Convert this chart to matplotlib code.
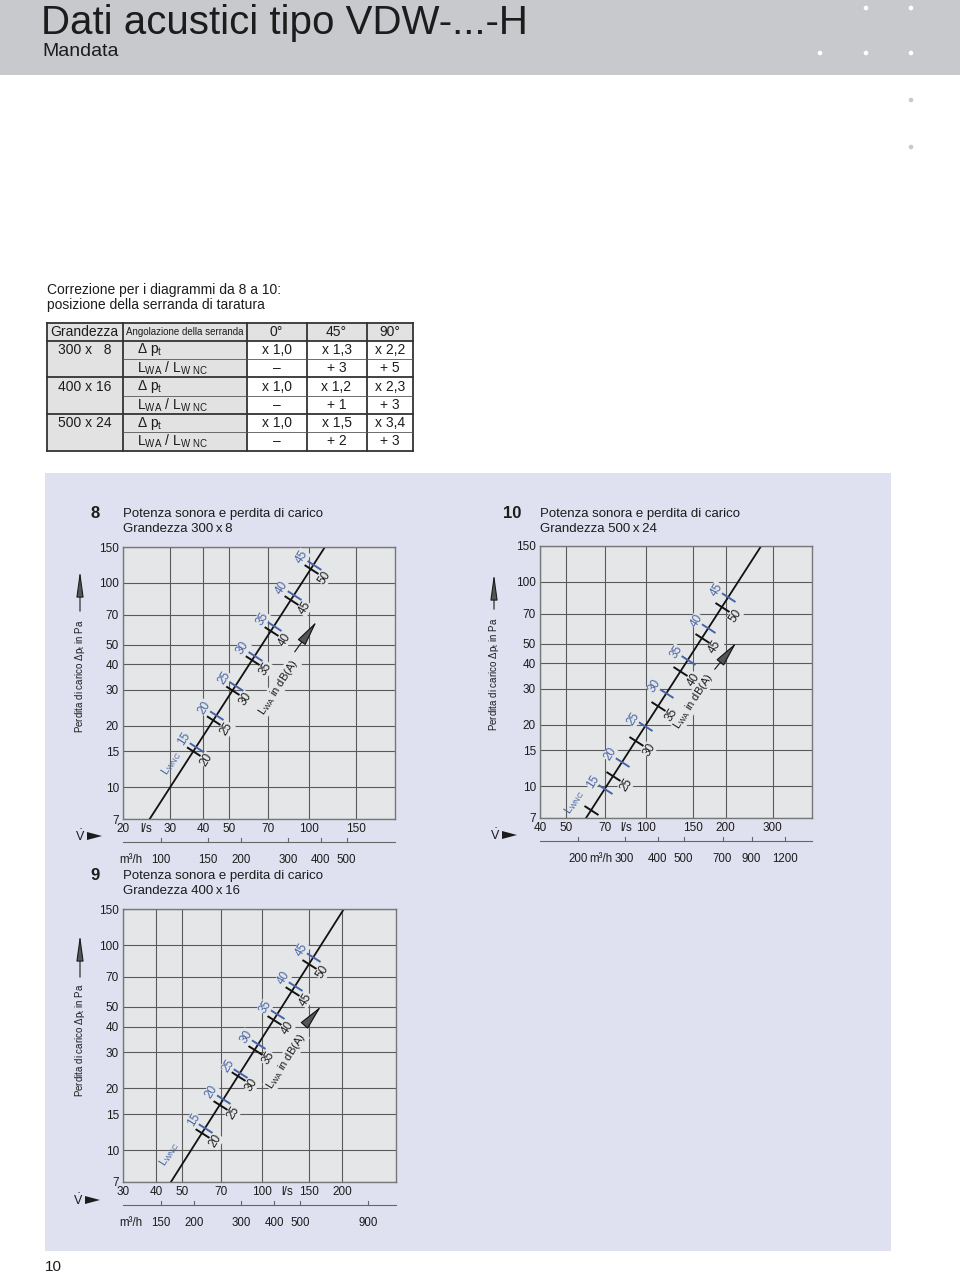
import math
import matplotlib.pyplot as plt
import matplotlib.patches as mpatches
from matplotlib.ticker import NullLocator

plt.rcParams['font.family'] = ['Liberation Sans', 'DejaVu Sans']
plt.rcParams['mathtext.fontset'] = 'custom'
plt.rcParams['mathtext.rm'] = 'Liberation Sans'
plt.rcParams['mathtext.it'] = 'Liberation Sans:italic'
plt.rcParams['mathtext.bf'] = 'Liberation Sans:bold'

W, H = 960, 1274
PANEL = '#dfe1f0'
FACE = '#e5e6e8'
BLUE = '#4664a6'
INK = '#1c1c1c'

# correction table
tab_angles = ['0°', '45°', '90°']
tab_sizes = ['300 x   8', '400 x 16', '500 x 24']
tab_dp = [['x 1,0', 'x 1,3', 'x 2,2'],
          ['x 1,0', 'x 1,2', 'x 2,3'],
          ['x 1,0', 'x 1,5', 'x 3,4']]
tab_lw = [['–', '+ 3', '+ 5'],
          ['–', '+ 1', '+ 3'],
          ['–', '+ 2', '+ 3']]

dp_ticks = [7, 10, 15, 20, 30, 40, 50, 70, 100, 150]

# chart 8: 300 x 8
c8_xlim = (20, 211)
c8_ls = [20, 30, 40, 50, 70, 100, 150]
c8_m3h = [100, 150, 200, 300, 400, 500]
c8_line_v = [25.2, 115]
c8_line_dp = [7, 150]
c8_lwa = [20, 25, 30, 35, 40, 45, 50]
c8_lwa_v = [36.8, 43.7, 51.6, 61.2, 72.0, 85.8, 101.9]
c8_lwa_dp = [15, 21.3, 29.8, 42, 58.3, 83, 117.5]
c8_lwnc = [15, 20, 25, 30, 35, 40, 45]
c8_lwnc_v = [37.7, 44.9, 53.1, 62.6, 74.0, 87.8, 104.2]
c8_lwnc_dp = [15.8, 22.5, 31.5, 44, 61.6, 87, 123]

# chart 10: 500 x 24
c10_xlim = (40, 422)
c10_ls = [40, 50, 70, 100, 150, 200, 300]
c10_m3h = [200, 300, 400, 500, 700, 900, 1200]
c10_line_v = [59.6, 271.7]
c10_line_dp = [7, 150]
c10_lwa = [20, 25, 30, 35, 40, 45, 50]
c10_lwa_v = [62.2, 75.4, 91.7, 111.3, 135.0, 162.4, 193.5]
c10_lwa_dp = [7.62, 11.27, 16.7, 24.7, 36.5, 53, 75.6]
c10_lwnc = [15, 20, 25, 30, 35, 40, 45]
c10_lwnc_v = [70.0, 81.6, 99.5, 119.6, 144.0, 171.8, 204.4]
c10_lwnc_dp = [9.7, 13.2, 19.7, 28.6, 41.6, 59.4, 84.4]

# chart 9: 400 x 16
c9_xlim = (30, 318)
c9_ls = [30, 40, 50, 70, 100, 150, 200]
c9_m3h = [150, 200, 300, 400, 500, 900]
c9_line_v = [45.4, 202.6]
c9_line_dp = [7, 150]
c9_lwa = [20, 25, 30, 35, 40, 45, 50]
c9_lwa_v = [59.5, 69.4, 81.1, 93.7, 110.5, 129.3, 150.2]
c9_lwa_dp = [12.2, 16.7, 23, 30.9, 43.3, 59.8, 81.3]
c9_lwnc = [15, 20, 25, 30, 35, 40, 45]
c9_lwnc_v = [61.2, 71.4, 82.5, 96.6, 113.8, 133.1, 155.8]
c9_lwnc_dp = [12.9, 17.7, 23.8, 32.9, 46, 63.4, 87.6]

fig = plt.figure(figsize=(W / 100, H / 100), dpi=100)
page = fig.add_axes([0, 0, 1, 1])
page.set_xlim(0, W)
page.set_ylim(H, 0)
page.axis('off')

# header band
page.add_patch(mpatches.Rectangle((0, 0), W, 75, color='#c8c9cc', lw=0))
page.text(41, 34, 'Dati acustici tipo VDW-...-H', fontsize=29, color=INK, va='baseline')
page.text(42, 51, 'Mandata', fontsize=14, color=INK, va='center')
for x, y in [(866, 8), (911, 8), (820, 53), (866, 53), (911, 53)]:
    page.add_patch(mpatches.Circle((x, y), 2.3, color='white', lw=0))
for x, y in [(911, 100), (911, 147)]:
    page.add_patch(mpatches.Circle((x, y), 2.3, color='#c8c9cc', lw=0))

# table
page.text(47, 290, 'Correzione per i diagrammi da 8 a 10:', fontsize=10, color=INK, va='center')
page.text(47, 305, 'posizione della serranda di taratura', fontsize=10, color=INK, va='center')
cx = [46.5, 122.5, 246.5, 306.5, 366.5, 413]
rh = 18.3
ry = [322.5 + i * rh for i in range(8)]
GRAY = '#e2e2e2'
page.add_patch(mpatches.Rectangle((cx[0], ry[0]), cx[-1] - cx[0], rh, color=GRAY, lw=0))
page.add_patch(mpatches.Rectangle((cx[0], ry[1]), cx[2] - cx[0], ry[7] - ry[1], color=GRAY, lw=0))
for x in cx:
    page.plot([x, x], [ry[0], ry[7]], color='#333', lw=1.3)
for i, y in enumerate(ry):
    if i in (0, 1, 3, 5, 7):
        page.plot([cx[0], cx[-1]], [y, y], color='#333', lw=1.3)
    else:
        page.plot([cx[1], cx[-1]], [y, y], color='#555', lw=0.6)
mid = lambda a, b: (a + b) / 2
page.text(mid(cx[0], cx[1]), mid(ry[0], ry[1]), 'Grandezza', fontsize=10, ha='center', va='center', color=INK)
page.text(mid(cx[1], cx[2]), mid(ry[0], ry[1]), 'Angolazione della serranda', fontsize=7, ha='center', va='center', color=INK)
for j, a in enumerate(tab_angles):
    page.text(mid(cx[j + 2], cx[j + 3]), mid(ry[0], ry[1]), a, fontsize=10, ha='center', va='center', color=INK)
for g in range(3):
    y1 = mid(ry[1 + 2 * g], ry[2 + 2 * g])
    y2 = mid(ry[2 + 2 * g], ry[3 + 2 * g])
    page.text(mid(cx[0], cx[1]), y1, tab_sizes[g], fontsize=10, ha='center', va='center', color=INK)
    page.text(137, y1, r'$\Delta$ p$_\mathrm{t}$', fontsize=10, va='center', color=INK)
    page.text(137, y2, r'L$_\mathrm{WA}$ / L$_\mathrm{W\ NC}$', fontsize=10, va='center', color=INK)
    for j in range(3):
        page.text(mid(cx[j + 2], cx[j + 3]), y1, tab_dp[g][j], fontsize=10, ha='center', va='center', color=INK)
        page.text(mid(cx[j + 2], cx[j + 3]), y2, tab_lw[g][j], fontsize=10, ha='center', va='center', color=INK)

# lavender panel
page.add_patch(mpatches.Rectangle((45, 473), 846, 778, color=PANEL, lw=0))
page.text(45, 1267, '10', fontsize=11, color=INK, va='center')


def px_axes(x0, y0, x1, y1):
    return fig.add_axes([x0 / W, 1 - y1 / H, (x1 - x0) / W, (y1 - y0) / H])


def side_texts(num, size, x, y, lab_x, lab_y, arr_top, arr_bot, v_y, v_x):
    page.text(x - 28, y, num, fontsize=12, fontweight='bold', ha='center', va='center', color=INK)
    page.text(x, y, 'Potenza sonora e perdita di carico', fontsize=9.5, va='center', color=INK)
    page.text(x, y + 15, 'Grandezza ' + size, fontsize=9.5, va='center', color=INK)
    page.text(lab_x, lab_y, r'Perdita di carico $\Delta$p$_\mathrm{t}$ in Pa', fontsize=7,
              rotation=90, ha='center', va='center', color=INK)
    page.annotate('', xy=(lab_x, arr_top), xytext=(lab_x, arr_bot),
                  arrowprops=dict(arrowstyle='-|>,head_length=1.6,head_width=0.22',
                                  fc='#555', ec=INK, lw=0.8))
    page.text(v_x, v_y, r'$\dot{\mathrm{V}}$', fontsize=9, ha='center', va='center', color=INK)
    page.add_patch(mpatches.Polygon([(v_x + 7, v_y - 4), (v_x + 22, v_y), (v_x + 7, v_y + 4)],
                                    color=INK, lw=0))


def chart(box, xlim, ls, ls_unit, m3h, m3h_unit, line_v, line_dp,
          lwa, lwa_v, lwa_dp, lwnc, lwnc_v, lwnc_dp, wnc_at, wa_at, arr):
    ax = px_axes(*box)
    ax.set_xscale('log')
    ax.set_yscale('log')
    ax.set_xlim(*xlim)
    ax.set_ylim(7, 150)
    ax.set_facecolor(FACE)
    ax.set_xticks(ls, [str(v) for v in ls])
    ax.set_yticks(dp_ticks, [str(v) for v in dp_ticks])
    ax.xaxis.set_minor_locator(NullLocator())
    ax.yaxis.set_minor_locator(NullLocator())
    ax.tick_params(length=0, labelsize=8.5, colors=INK, pad=3)
    ax.grid(True, color='#5a5a5a', lw=0.8)
    ax.set_axisbelow(True)
    for s in ax.spines.values():
        s.set_color('#777')
        s.set_linewidth(1)
    ax.annotate('l/s', (ls_unit, 0), xycoords=('data', 'axes fraction'), xytext=(0, -3),
                textcoords='offset points', ha='center', va='top', fontsize=8.5, color=INK)
    # m3/h scale below
    hgt = box[3] - box[1]
    yl = -23 / hgt
    ax.plot([0, 1], [yl, yl], transform=ax.transAxes, clip_on=False, color='#666', lw=0.8)
    tr = ax.get_xaxis_transform()
    for m in m3h:
        ax.plot([m / 3.6, m / 3.6], [yl, yl + 4 / hgt], transform=tr, clip_on=False, color='#666', lw=0.8)
        ax.text(m / 3.6, -41 / hgt, str(m), transform=tr, ha='center', va='center', fontsize=8.3, color=INK)
    ax.text(m3h_unit, -41 / hgt, 'm³/h', transform=tr, ha='center', va='center', fontsize=8.3, color=INK)

    ax.plot(line_v, line_dp, color='#111', lw=1.3)
    p0 = ax.transData.transform((line_v[0], line_dp[0]))
    p1 = ax.transData.transform((line_v[1], line_dp[1]))
    ang = math.degrees(math.atan2(p1[1] - p0[1], p1[0] - p0[0]))
    nx, ny = -math.sin(math.radians(ang)), math.cos(math.radians(ang))
    ax.plot(lwa_v, lwa_dp, ls='none', marker=(2, 0, ang), ms=12, mec='#111', mew=1.4)
    ax.plot(lwnc_v, lwnc_dp, ls='none', marker=(2, 0, ang), ms=12, mec=BLUE, mew=1.4)
    for lab, v, d in zip(lwa, lwa_v, lwa_dp):
        if d < 9:
            continue
        ax.annotate(str(lab), (v, d), xytext=(-nx * 11.5, -ny * 11.5), textcoords='offset points',
                    rotation=ang, ha='center', va='center', fontsize=8.5, color=INK,
                    bbox=dict(fc=FACE, ec='none', pad=0.3))
    for lab, v, d in zip(lwnc, lwnc_v, lwnc_dp):
        ax.annotate(str(lab), (v, d), xytext=(nx * 10, ny * 10), textcoords='offset points',
                    rotation=ang, ha='center', va='center', fontsize=8.5, color=BLUE,
                    bbox=dict(fc=FACE, ec='none', pad=0.3))
    ax.text(wnc_at[0], wnc_at[1], r'L$_\mathrm{WNC}$', rotation=ang, ha='center', va='center',
            fontsize=8, color=BLUE)
    ax.text(wa_at[0], wa_at[1], r'L$_\mathrm{WA}$ in dB(A)', rotation=ang, ha='center', va='center',
            fontsize=8, color=INK, bbox=dict(fc=FACE, ec='none', pad=0.5))
    ax.annotate('', xy=arr[1], xytext=arr[0],
                arrowprops=dict(arrowstyle='-|>,head_length=1.6,head_width=0.3',
                                fc='#555', ec='#111', lw=0.8))
    return ax


chart((123, 547, 395, 819), c8_xlim, c8_ls, 24.4, c8_m3h, 21.4, c8_line_v, c8_line_dp,
      c8_lwa, c8_lwa_v, c8_lwa_dp, c8_lwnc, c8_lwnc_v, c8_lwnc_dp,
      (30.3, 13.2), (76.6, 30.9), ((87.3, 44.9), (108.5, 66.4)))
side_texts('8', '300\u2009x\u20098', 123, 514, 80, 676, 568, 614, 836, 80)

chart((540, 546, 812, 818), c10_xlim, c10_ls, 84, c10_m3h, 67.5, c10_line_v, c10_line_dp,
      c10_lwa, c10_lwa_v, c10_lwa_dp, c10_lwnc, c10_lwnc_v, c10_lwnc_dp,
      (54.1, 8.36), (151, 26.1), ((179, 36.5), (222.3, 51.7)))
side_texts('10', '500\u2009x\u200924', 540, 514, 494, 674, 571, 612, 835, 495)

chart((123, 909, 396, 1182), c9_xlim, c9_ls, 124, c9_m3h, 32.1, c9_line_v, c9_line_dp,
      c9_lwa, c9_lwa_v, c9_lwa_dp, c9_lwnc, c9_lwnc_v, c9_lwnc_dp,
      (44.7, 9.56), (123, 27.2), ((148.5, 42.5), (169, 51.5)))
side_texts('9', '400\u2009x\u200916', 123, 876, 80, 1040, 932, 980, 1200, 78)

fig.savefig('out.png', dpi=100)
